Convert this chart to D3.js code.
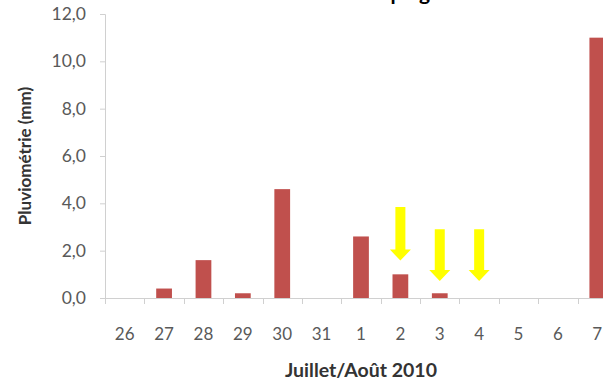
<!DOCTYPE html>
<html>
<head>
<meta charset="utf-8">
<script src="https://cdn.jsdelivr.net/npm/d3@7/dist/d3.min.js"></script>
<style>
  html, body { margin: 0; padding: 0; background: #fff; overflow: hidden; }
  svg { display: block; }
  text { font-family: Lato, "Open Sans", sans-serif; }
</style>
</head>
<body>
<svg id="chart" width="603" height="385"></svg>
<script>
// Daily rainfall, late July to early August 2010
const days = ["26", "27", "28", "29", "30", "31", "1", "2", "3", "4", "5", "6", "7"];
const rainfall = [0, 0.4, 1.6, 0.2, 4.6, 0, 2.6, 1.0, 0.2, 0, 0, 0, 11.0];
const yTicks = [0, 2, 4, 6, 8, 10, 12];

// Highlighted days (yellow arrows), start and tip in mm
const arrowDays = ["2", "3", "4"];
const arrowFrom = [3.85, 2.9, 2.9];
const arrowTo = [1.58, 0.72, 0.72];

const titleText = "Pluviométrie à Compiègne";
const xTitle = "Juillet/Août 2010";
const yTitle = "Pluviométrie (mm)";

const svg = d3.select("#chart");
const margin = { left: 105, top: 14, bottom: 298 };
const plotRight = 617;

const x = d3.scaleBand()
  .domain(days)
  .range([margin.left, plotRight])
  .paddingInner(0.6)
  .paddingOuter(0.3);

const y = d3.scaleLinear()
  .domain([0, 12])
  .range([margin.bottom, margin.top]);

const fmt = v => d3.format(".1f")(v).replace(".", ",");
const axisColor = "#d0d0d0";
const labelColor = "#595959";

// Chart title, mostly above the top edge
svg.append("text")
  .attr("x", (margin.left + plotRight) / 2 - 31)
  .attr("y", 0)
  .attr("text-anchor", "middle")
  .attr("font-size", 21)
  .attr("font-weight", "bold")
  .attr("fill", "#000")
  .text(titleText);

// Y axis
const yAxis = d3.axisLeft(y)
  .tickValues(yTicks)
  .tickFormat(fmt)
  .tickSize(5)
  .tickPadding(14);

const gy = svg.append("g")
  .attr("transform", `translate(${margin.left},0)`)
  .call(yAxis);
gy.select(".domain").attr("stroke", axisColor).attr("stroke-width", 1);
gy.selectAll(".tick line").attr("stroke", axisColor);
gy.selectAll(".tick text")
  .attr("fill", labelColor)
  .attr("font-size", 17.5)
  .attr("font-family", "Lato, sans-serif");

// X axis: tick marks at the band boundaries
const step = x.step();
const boundaries = days.map(d => x(d) - step * x.paddingInner() / 2);
boundaries.push(boundaries[boundaries.length - 1] + step);

svg.append("line")
  .attr("x1", margin.left).attr("x2", plotRight)
  .attr("y1", y(0) + 0.5).attr("y2", y(0) + 0.5)
  .attr("stroke", axisColor);

svg.append("g").selectAll("line")
  .data(boundaries)
  .join("line")
  .attr("x1", d => Math.round(d) + 0.5).attr("x2", d => Math.round(d) + 0.5)
  .attr("y1", y(0)).attr("y2", y(0) + 6)
  .attr("stroke", axisColor);

svg.append("g").selectAll("text")
  .data(days)
  .join("text")
  .attr("x", d => x(d) + x.bandwidth() / 2)
  .attr("y", 340)
  .attr("text-anchor", "middle")
  .attr("fill", labelColor)
  .attr("font-size", 17)
  .text(d => d);

// Bars
svg.append("g").selectAll("rect")
  .data(days.map((d, i) => ({ day: d, value: rainfall[i] })))
  .join("rect")
  .attr("x", d => x(d.day))
  .attr("width", x.bandwidth())
  .attr("y", d => y(d.value))
  .attr("height", d => y(0) - y(d.value))
  .attr("fill", "#C0504D");

// Yellow arrows
const arrows = arrowDays.map((d, i) => ({ day: d, from: arrowFrom[i], to: arrowTo[i] }));
const shaftW = 10, headW = 21, headH = 11;
svg.append("g").selectAll("path")
  .data(arrows)
  .join("path")
  .attr("d", a => {
    const cx = x(a.day) + x.bandwidth() / 2;
    const top = y(a.from), tip = y(a.to), neck = tip - headH;
    return `M${cx - shaftW / 2},${top} L${cx + shaftW / 2},${top} L${cx + shaftW / 2},${neck}` +
      ` L${cx + headW / 2},${neck} L${cx},${tip} L${cx - headW / 2},${neck}` +
      ` L${cx - shaftW / 2},${neck} Z`;
  })
  .attr("fill", "#FFFF00");

// Axis titles
svg.append("text")
  .attr("x", (margin.left + plotRight) / 2)
  .attr("y", 377)
  .attr("text-anchor", "middle")
  .attr("font-size", 19.5)
  .attr("font-weight", "bold")
  .attr("fill", "#333")
  .text(xTitle);

svg.append("text")
  .attr("transform", `translate(31,${(margin.top + margin.bottom) / 2}) rotate(-90)`)
  .attr("text-anchor", "middle")
  .attr("font-size", 17)
  .attr("font-weight", "bold")
  .attr("fill", "#333")
  .text(yTitle);
</script>
</body>
</html>
